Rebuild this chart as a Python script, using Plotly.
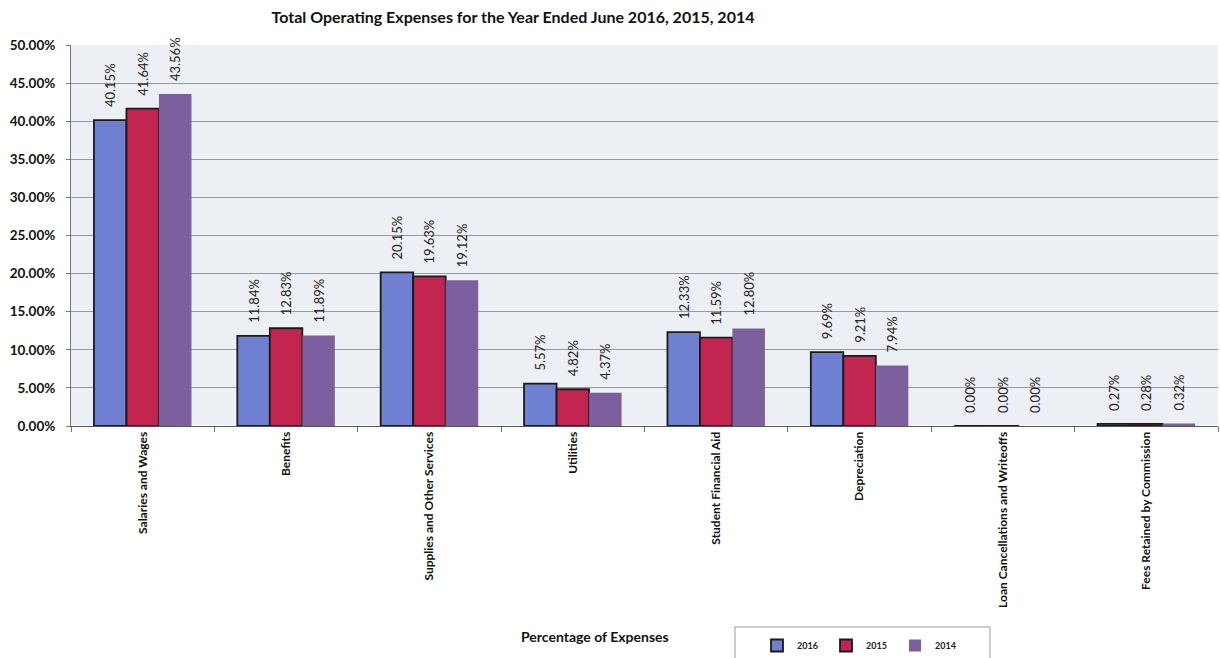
import plotly.graph_objects as go

categories = ["Salaries and Wages", "Benefits", "Supplies and Other Services", "Utilities",
              "Student Financial Aid", "Depreciation", "Loan Cancellations and Writeoffs",
              "Fees Retained by Commission"]
v2016 = [40.15, 11.84, 20.15, 5.57, 12.33, 9.69, 0.00, 0.27]
v2015 = [41.64, 12.83, 19.63, 4.82, 11.59, 9.21, 0.00, 0.28]
v2014 = [43.56, 11.89, 19.12, 4.37, 12.80, 7.94, 0.00, 0.32]
years = ["2016", "2015", "2014"]
colors = ["#6f80d2", "#c22550", "#7d5e9e"]
outlines = ["#1a1a1a", "#1a1a1a", "rgba(0,0,0,0)"]

L, R, T, B = 71, 2, 45, 232
W, H = 1220, 658
PW, PH = W - L - R, H - T - B

def px_x(x):
    return (x - L) / PW

def px_y(y):
    return (H - B - y) / PH

fig = go.Figure()
for name, vals, c, oc in zip(years, [v2016, v2015, v2014], colors, outlines):
    fig.add_trace(go.Bar(
        x=categories, y=vals, name=name,
        marker=dict(color=c, line=dict(color=oc, width=1.8)),
        text=["\u00a0\u00a0\u00a0" + f"{v:.2f}%" for v in vals], textposition="outside", textangle=-90,
        textfont=dict(family="Lato", size=13, color="#222"),
        cliponaxis=False,
    ))

fig.update_layout(
    width=W, height=H,
    margin=dict(l=L, r=R, t=T, b=B, autoexpand=False),
    paper_bgcolor="white", plot_bgcolor="#eceff4",
    barmode="group", bargap=0.32, bargroupgap=0,
    title=dict(text="<b>Total Operating Expenses for the Year Ended June 2016, 2015, 2014</b>",
               x=513 / W, xanchor="center", xref="container", y=1 - 17 / H, yanchor="middle",
               font=dict(family="Lato", size=16, color="#111")),
    font=dict(family="Lato", color="#111"),
    showlegend=True,
    legend=dict(orientation="h", x=px_x(757), xanchor="left", y=px_y(631), yanchor="top",
                borderwidth=0, bgcolor="rgba(0,0,0,0)",
                font=dict(family="Lato", size=9, color="#222", weight="bold"),
                entrywidth=24, itemwidth=30),
    uniformtext=dict(mode="show", minsize=13),
    shapes=[dict(type="rect", xref="paper", yref="paper",
                 x0=px_x(735), x1=px_x(990), y0=px_y(627), y1=px_y(662),
                 line=dict(color="#999", width=1), fillcolor="white", layer="below")],
)
fig.update_yaxes(range=[0, 50], dtick=5, tickformat=".2f", ticksuffix="%",
                 showgrid=True, gridcolor="#9a9a9a", gridwidth=1, automargin=False,
                 showline=True, linecolor="#777", ticks="outside", ticklen=4, tickcolor="#777",
                 ticklabelstandoff=8,
                 tickfont=dict(family="Lato", size=13.5, color="#111", weight="bold"))
fig.update_xaxes(tickangle=-90, tickfont=dict(family="Lato", size=12, color="#111", weight="bold"),
                 showline=True, linecolor="#555", ticks="outside", tickson="boundaries",
                 ticklen=5, tickcolor="#777", automargin=False)
fig.add_annotation(text="<b>Percentage of Expenses</b>", xref="paper", yref="paper",
                   x=px_x(595), y=px_y(636), xanchor="center", yanchor="middle",
                   showarrow=False, font=dict(family="Lato", size=14, color="#111"))

fig.write_html("out.html", config={"displayModeBar": False},
               post_script="document.body.style.margin='0';")
